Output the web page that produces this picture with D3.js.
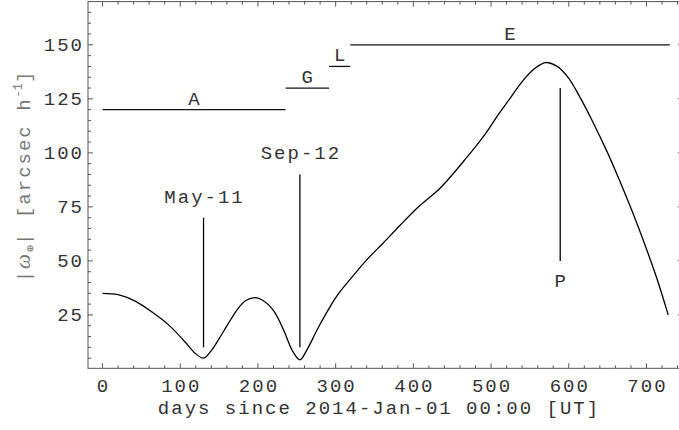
<!DOCTYPE html>
<html>
<head>
<meta charset="utf-8">
<script src="https://cdn.jsdelivr.net/npm/d3@7"></script>
<style>
  body { margin: 0; background: #fff; }
  text { font-family: "Liberation Mono", "DejaVu Sans Mono", monospace; font-size: 19px; letter-spacing: 2px; }
</style>
</head>
<body>
<div id="chart"></div>
<script>
// |omega| curve (days since 2014-01-01, arcsec/h)
var days = [0, 20, 42, 65, 85, 106, 119, 130, 140, 150, 161, 175, 185, 196, 205, 220, 233, 245, 254,
  263, 276, 288, 301, 318, 340, 361, 383, 408, 434, 469, 490, 510, 524, 540, 555, 570, 585, 600,
  614, 630, 650, 665, 687, 705, 716, 728];
var omega = [35.0, 34.4, 31.4, 26.0, 20.4, 12.6, 7.3, 5.0, 8.5, 14.0, 20.5, 28.3, 31.8, 33.0, 32.0, 27.0, 18.0, 8.0, 4.2,
  8.8, 18.0, 25.8, 33.5, 41.2, 50.5, 58.2, 66.5, 75.5, 83.5, 98.0, 107.5, 118.0, 125.0, 133.0, 138.7, 141.8, 140.0, 134.5,
  126.0, 115.0, 100.0, 87.5, 68.0, 50.5, 39.0, 25.0];

// horizontal bars (mission phases)
var phaseNames = ["A", "G", "L", "E"];
var phaseStart = [0, 235.5, 291.5, 318.8];
var phaseEnd = [235.5, 291.5, 318.8, 730];
var phaseLevel = [120, 130, 140, 150];

// vertical markers
var markNames = ["May-11", "Sep-12", "P"];
var markDay = [130, 254, 589];
var markLow = [10, 10, 50];
var markHigh = [70, 90, 130];

var xTicks = [0, 100, 200, 300, 400, 500, 600, 700];
var yTicks = [25, 50, 75, 100, 125, 150];

var W = 679, H = 430;
var svg = d3.select("#chart").append("svg")
    .attr("width", W)
    .attr("height", H);

var x = d3.scaleLinear().domain([-18.7, 747]).range([88, 683]);
var y = d3.scaleLinear().domain([0.3, 170]).range([368.3, 1.6]);

var x0 = x.range()[0], x1 = x.range()[1], yb = y.range()[0], yt = y.range()[1];
var frameCol = "#555";
var txtCol = "#333";

// frame
svg.append("rect")
    .attr("x", x0).attr("y", yt)
    .attr("width", x1 - x0).attr("height", yb - yt)
    .attr("fill", "none").attr("stroke", frameCol).attr("stroke-width", 1);

// ticks on all 4 sides, pointing inward
var xMinor = d3.range(0, 741, 20);
var yMinor = d3.range(5, 166, 5);
var tg = svg.append("g").attr("stroke", frameCol).attr("stroke-width", 1);
xMinor.forEach(function(v) {
  var len = v % 100 === 0 ? 5 : 3;
  tg.append("line").attr("x1", x(v)).attr("x2", x(v)).attr("y1", yb).attr("y2", yb - len);
  tg.append("line").attr("x1", x(v)).attr("x2", x(v)).attr("y1", yt).attr("y2", yt + len);
});
yMinor.forEach(function(v) {
  var len = v % 25 === 0 ? 5 : 3;
  tg.append("line").attr("y1", y(v)).attr("y2", y(v)).attr("x1", x0).attr("x2", x0 + len);
  tg.append("line").attr("y1", y(v)).attr("y2", y(v)).attr("x1", x1).attr("x2", x1 - len);
});

// tick labels
svg.append("g").selectAll("text")
  .data(xTicks).enter().append("text")
    .attr("x", function(d) { return x(d) + 1; })
    .attr("y", 392)
    .attr("text-anchor", "middle")
    .attr("fill", txtCol)
    .text(function(d) { return d; });

svg.append("g").selectAll("text")
  .data(yTicks).enter().append("text")
    .attr("x", 84)
    .attr("y", function(d) { return y(d) + 6; })
    .attr("text-anchor", "end")
    .attr("fill", txtCol)
    .text(function(d) { return d; });

// axis titles
svg.append("text")
    .attr("x", 379).attr("y", 414)
    .attr("text-anchor", "middle")
    .attr("fill", txtCol)
    .text("days since 2014-Jan-01 00:00 [UT]");

var yl = svg.append("text")
    .attr("transform", "translate(30,176) rotate(-90)")
    .attr("text-anchor", "middle")
    .attr("fill", "#777");
yl.append("tspan").text("|");
yl.append("tspan").style("font-family", "'Liberation Serif', serif").style("font-style", "italic").style("font-size", "21px").text("ω");
yl.append("tspan").attr("dy", 4).style("font-size", "12px").style("letter-spacing", "0px").text("⊕");
yl.append("tspan").attr("dy", -4).text("| [arcsec h");
yl.append("tspan").attr("dy", -8).style("font-size", "12px").style("letter-spacing", "0px").text("-1");
yl.append("tspan").attr("dy", 8).text("]");

// main curve
var pts = days.map(function(d, i) { return [d, omega[i]]; });
svg.append("path")
    .datum(pts)
    .attr("fill", "none")
    .attr("stroke", "#000")
    .attr("stroke-width", 1.3)
    .attr("d", d3.line()
      .x(function(d) { return x(d[0]); })
      .y(function(d) { return y(d[1]); })
      .curve(d3.curveCatmullRom.alpha(0.5)));

// phase bars + letters
phaseNames.forEach(function(n, i) {
  svg.append("line")
      .attr("x1", x(phaseStart[i])).attr("x2", x(phaseEnd[i]))
      .attr("y1", y(phaseLevel[i])).attr("y2", y(phaseLevel[i]))
      .attr("stroke", "#111").attr("stroke-width", 1.3);
  svg.append("text")
      .attr("x", x((phaseStart[i] + phaseEnd[i]) / 2) + 1)
      .attr("y", y(phaseLevel[i]) - 5)
      .attr("text-anchor", "middle")
      .attr("fill", txtCol)
      .text(n);
});

// vertical markers + labels
markNames.forEach(function(n, i) {
  svg.append("line")
      .attr("x1", x(markDay[i])).attr("x2", x(markDay[i]))
      .attr("y1", y(markLow[i])).attr("y2", y(markHigh[i]))
      .attr("stroke", "#000").attr("stroke-width", 1.3);
  // P sits under its line, the dates above
  var ty = n === "P" ? y(markLow[i]) + 26 : y(markHigh[i]) - 15;
  svg.append("text")
      .attr("x", x(markDay[i]) + 1)
      .attr("y", ty)
      .attr("text-anchor", "middle")
      .attr("fill", txtCol)
      .text(n);
});
</script>
</body>
</html>
